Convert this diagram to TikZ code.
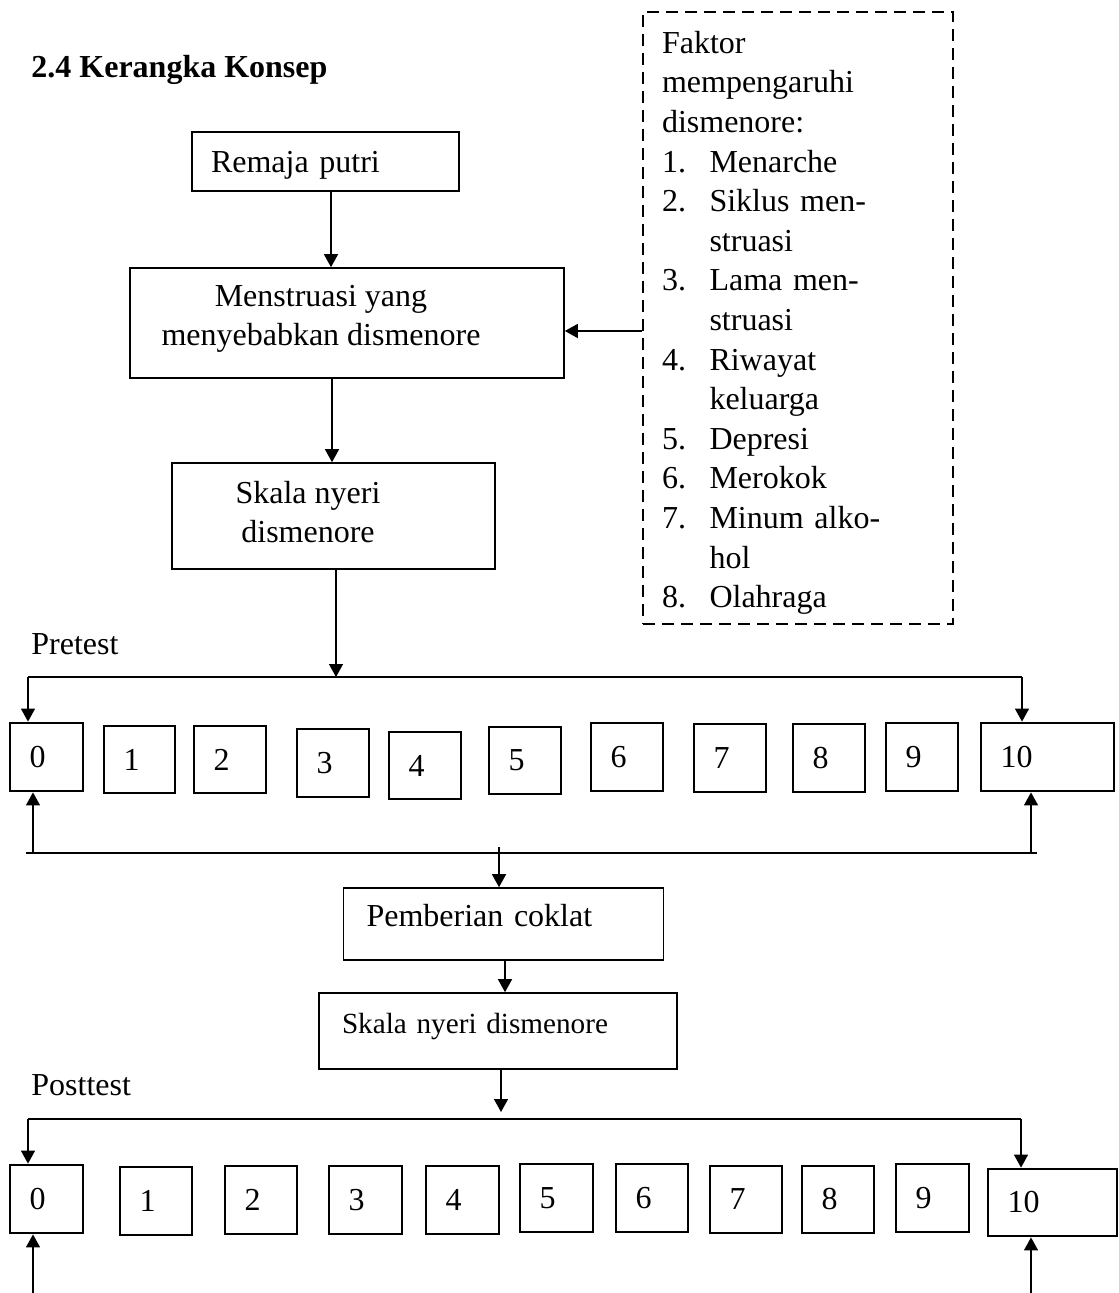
\documentclass[tikz,border=0pt]{standalone}
\usepackage{fontspec}
\setmainfont{Liberation Serif}
\usetikzlibrary{arrows.meta}
\newcommand\butir[2]{\makebox[23.75pt][l]{#1}#2}
\newcommand\sambung[1]{\hspace*{23.75pt}#1}

\begin{document}
\begin{tikzpicture}[x=0.5pt,y=-0.5pt,font=\fontsize{16}{19.8}\selectfont,
  kotak/.style={draw,line width=0.8pt},
  numbox/.style={draw,line width=1.4pt,inner xsep=9.75pt,align=left},
  putus/.style={draw,line width=1.4pt,dash pattern=on 6pt off 3.5pt,inner xsep=9.5pt,align=left},
  teks/.style={inner sep=0pt,align=center},
  arr/.style={line width=0.7pt,-{Triangle[length=6.5pt,width=7pt]}},
  garis/.style={line width=0.8pt}]
\useasboundingbox (0,0) rectangle (1118,1293);

\node[anchor=base west,inner sep=0pt,font=\fontsize{16}{19.8}\selectfont\bfseries] (judul) at (31,78) {2.4 Kerangka Konsep};
\node[anchor=base west,inner sep=0pt] (pretest) at (31,654) {Pretest};
\node[anchor=base west,inner sep=0pt] (posttest) at (31,1095) {Posttest};

% alur utama
\node[kotak,minimum height=29.5pt,text width=114.5pt,text height=14.9pt,inner xsep=9.5pt,align=left] (rem) at (325.5,161.5) {Remaja putri};
\node[kotak,minimum width=217pt,minimum height=55pt] (mens) at (347,323) {};
\node[teks] (mensT) at (321,319) {Menstruasi yang\\menyebabkan dismenore};
\node[kotak,minimum width=161.5pt,minimum height=53pt] (sk1) at (333.5,516) {};
\node[teks] (sk1T) at (308,512) {Skala nyeri\\dismenore};
\node[kotak,minimum height=36pt,text width=137pt,text depth=8.5pt,inner xsep=11.5pt,align=left] (pem) at (503.5,924) {Pemberian coklat};
\node[kotak,minimum height=38pt,text width=156pt,text depth=7.2pt,inner xsep=11.5pt,align=left,font=\fontsize{14.6}{18}\selectfont] (sk2) at (498,1031) {Skala nyeri dismenore};

% faktor
\node[putus,minimum height=306pt,text width=136pt] (fak) at (798,318) {\rule{0pt}{15.9pt}Faktor\\
mempengaruhi\\
dismenore:\\
\butir{1.}{Menarche}\\
\butir{2.}{Siklus men-}\\
\sambung{struasi}\\
\butir{3.}{Lama men-}\\
\sambung{struasi}\\
\butir{4.}{Riwayat}\\
\sambung{keluarga}\\
\butir{5.}{Depresi}\\
\butir{6.}{Merokok}\\
\butir{7.}{Minum alko-}\\
\sambung{hol}\\
\butir{8.}{Olahraga}};

% skala pretest
\foreach \val/\xl/\xr/\yt/\yb in {0/10/83/723/791,1/104/175/726/793,2/194/266/726/793,
  3/297/369/729/797,4/389/461/732/799,5/489/561/727/794,6/591/663/723/791,
  7/694/766/724/792,8/793/865/724/792,9/886/958/723/791,10/981/1114/723/791} {
  \pgfmathsetmacro\cx{(\xl+\xr)/2}
  \pgfmathsetmacro\cy{(\yt+\yb)/2}
  \pgfmathsetmacro\bh{(\yb-\yt)/2}
  \pgfmathsetmacro\tw{(\xr-\xl)/2-19.5}
  \node[numbox,minimum height=\bh pt,text width=\tw pt] (pre\val) at (\cx,\cy) {\val};
}
% skala posttest
\foreach \val/\xl/\xr/\yt/\yb in {0/10/83/1165/1233,1/120/192/1167/1235,2/225/297/1166/1234,
  3/329/402/1166/1234,4/426/499/1166/1234,5/520/593/1164/1232,6/616/688/1164/1232,
  7/710/782/1166/1233,8/802/874/1166/1233,9/896/969/1164/1232,10/988/1117/1169/1236} {
  \pgfmathsetmacro\cx{(\xl+\xr)/2}
  \pgfmathsetmacro\cy{(\yt+\yb)/2}
  \pgfmathsetmacro\bh{(\yb-\yt)/2}
  \pgfmathsetmacro\tw{(\xr-\xl)/2-19.5}
  \node[numbox,minimum height=\bh pt,text width=\tw pt] (post\val) at (\cx,\cy) {\val};
}

\coordinate (preL) at (28,677);
\coordinate (preR) at (1022,677);
\coordinate (balikL) at (26,853);
\coordinate (balikR) at (1037,853);
\coordinate (kePem) at (499,847);
\coordinate (keGaris) at (501,1112);
\coordinate (postL) at (28,1119);
\coordinate (postR) at (1021,1119);
\coordinate (dasarL) at (33,1293);
\coordinate (dasarR) at (1031,1293);

\draw[arr] (331,0 |- rem.south) -- (331,0 |- mens.north);
\draw[arr] (fak.west |- 0,331) -- (mens.east |- 0,331);
\draw[arr] (332,0 |- mens.south) -- (332,0 |- sk1.north);
\draw[arr] (336,0 |- sk1.south) -- (336,0 |- preL);
\draw[garis] (preL) -- (preR);
\draw[arr] (preL) -- (preL |- pre0.north);
\draw[arr] (preR) -- (preR |- pre10.north);
\draw[garis] (balikL) -- (balikR);
\draw[arr] (33,0 |- balikL) -- (33,0 |- pre0.south);
\draw[arr] (1031,0 |- balikL) -- (1031,0 |- pre10.south);
\draw[arr] (kePem) -- (kePem |- pem.north);
\draw[arr] (505,0 |- pem.south) -- (505,0 |- sk2.north);
\draw[arr] (501,0 |- sk2.south) -- (keGaris);
\draw[garis] (postL) -- (postR);
\draw[arr] (postL) -- (postL |- post0.north);
\draw[arr] (postR) -- (postR |- post10.north);
\draw[arr] (dasarL) -- (dasarL |- post0.south);
\draw[arr] (dasarR) -- (dasarR |- post10.south);
\end{tikzpicture}
\end{document}
